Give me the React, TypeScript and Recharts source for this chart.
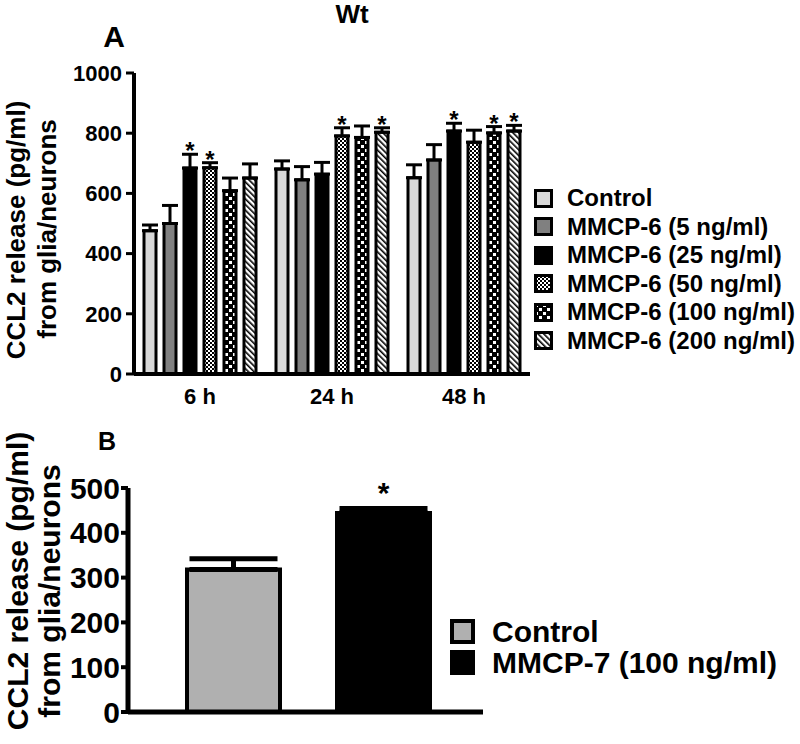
import { BarChart, Bar, XAxis, YAxis, ErrorBar, LabelList, Legend, Cell } from 'recharts';

const font = 'Liberation Sans, Arial, Helvetica, sans-serif';

// Panel A: CCL2 release, Wt glia/neurons, MMCP-6 doses
const timepoints = ['6 h', '24 h', '48 h'];
const seriesNames = [
  'Control',
  'MMCP-6 (5 ng/ml)',
  'MMCP-6 (25 ng/ml)',
  'MMCP-6 (50 ng/ml)',
  'MMCP-6 (100 ng/ml)',
  'MMCP-6 (200 ng/ml)',
];
const control = [476, 681, 652];
const controlErr = [19, 27, 43];
const mmcp6_5 = [500, 645, 711];
const mmcp6_5Err = [60, 44, 51];
const mmcp6_25 = [684, 664, 807];
const mmcp6_25Err = [46, 39, 26];
const mmcp6_50 = [685, 791, 770];
const mmcp6_50Err = [17, 27, 40];
const mmcp6_100 = [609, 786, 801];
const mmcp6_100Err = [42, 38, 21];
const mmcp6_200 = [651, 803, 807];
const mmcp6_200Err = [47, 15, 19];
const stars25 = [true, false, true];
const stars50 = [true, true, false];
const stars100 = [false, false, true];
const stars200 = [false, true, true];
const yTicksA = [0, 200, 400, 600, 800, 1000];

// Panel B: MMCP-7
const groupsB = ['Control', 'MMCP-7 (100 ng/ml)'];
const valuesB = [318, 444];
const errB = [24, 10];
const starsB = [false, true];
const yTicksB = [0, 100, 200, 300, 400, 500];

const fillsA = ['#d9d9d9', '#808080', '#000000', 'url(#chk50)', 'url(#chk100)', 'url(#diag200)'];
const fillsB = ['#b0b0b0', '#000000'];

const seriesA = [
  { key: 's0', values: control, errs: controlErr, stars: [false, false, false] },
  { key: 's1', values: mmcp6_5, errs: mmcp6_5Err, stars: [false, false, false] },
  { key: 's2', values: mmcp6_25, errs: mmcp6_25Err, stars: stars25 },
  { key: 's3', values: mmcp6_50, errs: mmcp6_50Err, stars: stars50 },
  { key: 's4', values: mmcp6_100, errs: mmcp6_100Err, stars: stars100 },
  { key: 's5', values: mmcp6_200, errs: mmcp6_200Err, stars: stars200 },
];

const dataA = timepoints.map((t, i) => {
  const row: any = { time: t };
  seriesA.forEach((s) => {
    row[s.key] = s.values[i];
    row[s.key + 'e'] = [0, s.errs[i]];
  });
  return row;
});

const dataB = groupsB.map((g, i) => ({ group: g, value: valuesB[i], err: [0, errB[i]] }));

// star above the error bar cap, position from the bar's own scale
function starContent(values: number[], errs: number[], stars: boolean[], size: number, drop: number) {
  return (props: any) => {
    const { x, y, width, height, index } = props;
    if (!stars[index]) return null;
    const h = Math.abs(height);
    const top = height < 0 ? y + height : y;
    const capY = top - (errs[index] * h) / values[index];
    return (
      <text x={x + width / 2} y={capY + drop} textAnchor="middle" fontSize={size} fontWeight="bold" fontFamily={font} fill="#000">
        *
      </text>
    );
  };
}

const yLabelA = () => (
  <g fontFamily={font} fontWeight="bold" fontSize={26} fill="#000">
    <text x={25} y={230} textAnchor="middle" transform="rotate(-90 25 230)">CCL2 release (pg/ml)</text>
    <text x={56} y={229} textAnchor="middle" transform="rotate(-90 56 229)">from glia/neurons</text>
  </g>
);

const yLabelB = () => (
  <g fontFamily={font} fontWeight="bold" fontSize={30} fill="#000">
    <text x={28} y={161} textAnchor="middle" transform="rotate(-90 28 161)">CCL2 release (pg/ml)</text>
    <text x={60} y={171} textAnchor="middle" transform="rotate(-90 60 171)">from glia/neurons</text>
  </g>
);

const LegendA = () => (
  <div style={{ fontFamily: font, fontWeight: 'bold', fontSize: 24, color: '#000' }}>
    {seriesNames.map((n, i) => (
      <div key={n} style={{ display: 'flex', alignItems: 'center', height: 28.5 }}>
        <svg width={19} height={19} style={{ display: 'block' }}>
          <rect x={1.5} y={1.5} width={16} height={16} fill={fillsA[i]} stroke="#000" strokeWidth={3} />
        </svg>
        <span style={{ marginLeft: 14, whiteSpace: 'nowrap', lineHeight: '28px' }}>{n}</span>
      </div>
    ))}
  </div>
);

const LegendB = () => (
  <div style={{ fontFamily: font, fontWeight: 'bold', fontSize: 30, color: '#000' }}>
    {groupsB.map((n, i) => (
      <div key={n} style={{ display: 'flex', alignItems: 'center', height: 31 }}>
        <svg width={25} height={25} style={{ display: 'block' }}>
          <rect x={2} y={2} width={21} height={21} fill={fillsB[i]} stroke="#000" strokeWidth={4} />
        </svg>
        <span style={{ marginLeft: 17, whiteSpace: 'nowrap', lineHeight: '31px' }}>{n}</span>
      </div>
    ))}
  </div>
);

export default function App() {
  return (
    <div style={{ position: 'absolute', left: 0, top: 0, width: 800, height: 744, background: '#fff', overflow: 'hidden' }}>
      <div style={{ position: 'absolute', left: 0, top: 0 }}>
        <BarChart width={800} height={420} data={dataA} margin={{ top: 73, right: 270, bottom: 16, left: 0 }} barSize={12} barGap={8}>
          <defs>
            <pattern id="chk50" width={4} height={4} patternUnits="userSpaceOnUse">
              <rect width={4} height={4} fill="#fff" />
              <rect width={2} height={2} fill="#000" />
              <rect x={2} y={2} width={2} height={2} fill="#000" />
            </pattern>
            <pattern id="chk100" width={8} height={8} patternUnits="userSpaceOnUse">
              <rect width={8} height={8} fill="#000" />
              <rect x={1} y={1} width={3} height={3} fill="#fff" />
              <rect x={5} y={5} width={3} height={3} fill="#fff" />
            </pattern>
            <pattern id="diag200" width={4} height={4} patternUnits="userSpaceOnUse" patternTransform="rotate(-45)">
              <rect width={4} height={4} fill="#fff" />
              <rect x={0} y={0} width={1.6} height={4} fill="#000" />
            </pattern>
          </defs>
          <XAxis
            dataKey="time"
            height={30}
            tickLine={false}
            tickSize={0}
            tickMargin={14}
            axisLine={{ stroke: '#000', strokeWidth: 4 }}
            tick={{ fontSize: 22, fontWeight: 'bold', fill: '#000', fontFamily: font }}
          />
          <YAxis
            width={134}
            domain={[0, 1000]}
            ticks={yTicksA}
            interval={0}
            tickSize={8}
            tickMargin={4}
            axisLine={{ stroke: '#000', strokeWidth: 4 }}
            tickLine={{ stroke: '#000', strokeWidth: 3 }}
            tick={{ fontSize: 22, fontWeight: 'bold', fill: '#000', fontFamily: font }}
            label={{ content: yLabelA }}
          />
          <Legend layout="vertical" align="center" verticalAlign="middle" wrapperStyle={{ left: 534, top: 184, width: 266 }} content={LegendA} />
          {seriesA.map((s, i) => (
            <Bar key={s.key} dataKey={s.key} name={seriesNames[i]} fill={fillsA[i]} stroke="#000" strokeWidth={3} isAnimationActive={false}>
              <ErrorBar dataKey={s.key + 'e'} width={8} strokeWidth={3} stroke="#000" />
              <LabelList dataKey={s.key} content={starContent(s.values, s.errs, s.stars, 24, 5)} />
            </Bar>
          ))}
        </BarChart>
      </div>
      <div style={{ position: 'absolute', left: 0, top: 420 }}>
        <BarChart width={800} height={324} data={dataB} margin={{ top: 68, right: 317, bottom: 28, left: 0 }} barSize={93}>
          <XAxis
            dataKey="group"
            height={4}
            tick={false}
            tickLine={false}
            padding={{ left: 30, right: 25 }}
            axisLine={{ stroke: '#000', strokeWidth: 5 }}
          />
          <YAxis
            width={128}
            domain={[0, 500]}
            ticks={yTicksB}
            interval={0}
            tickSize={7}
            tickMargin={1}
            axisLine={{ stroke: '#000', strokeWidth: 5 }}
            tickLine={{ stroke: '#000', strokeWidth: 4 }}
            tick={{ fontSize: 30, fontWeight: 'bold', fill: '#000', fontFamily: font }}
            label={{ content: yLabelB }}
          />
          <Legend layout="vertical" align="center" verticalAlign="middle" wrapperStyle={{ left: 450, top: 196, width: 350 }} content={LegendB} />
          <Bar dataKey="value" stroke="#000" strokeWidth={4} isAnimationActive={false}>
            {dataB.map((d, i) => (
              <Cell key={d.group} fill={fillsB[i]} />
            ))}
            <ErrorBar dataKey="err" width={44} strokeWidth={5} stroke="#000" />
            <LabelList dataKey="value" content={starContent(valuesB, errB, starsB, 30, -6)} />
          </Bar>
        </BarChart>
      </div>
      <svg width={800} height={744} style={{ position: 'absolute', left: 0, top: 0, pointerEvents: 'none' }}>
        <g fontFamily={font} fontWeight="bold" fill="#000" textAnchor="middle">
          <text x={352} y={23} fontSize={26}>Wt</text>
          <text x={114} y={47} fontSize={30}>A</text>
          <text x={107} y={450} fontSize={25}>B</text>
        </g>
      </svg>
    </div>
  );
}
